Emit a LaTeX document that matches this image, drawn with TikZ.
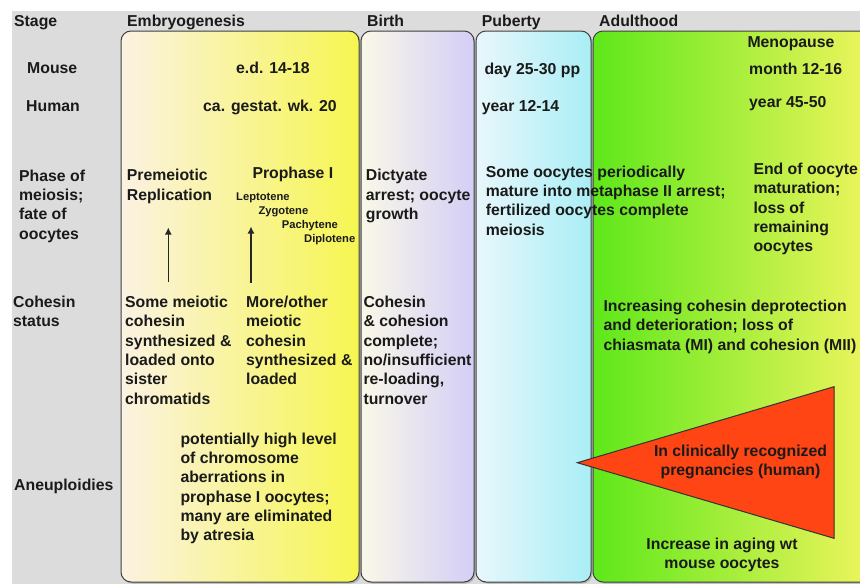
\documentclass[tikz,border=0pt]{standalone}
\usepackage{fontspec}
\setmainfont{Liberation Sans}
\usetikzlibrary{arrows.meta}

\definecolor{bggray}{HTML}{DCDCDC}
\definecolor{embL}{HTML}{FBF2E2}
\definecolor{embM}{HTML}{F9F2BC}
\definecolor{embR}{HTML}{F6F650}
\definecolor{birL}{HTML}{FAF8E8}
\definecolor{birR}{HTML}{D4CEF6}
\definecolor{pubL}{HTML}{E8F7FB}
\definecolor{pubR}{HTML}{AAEEF6}
\definecolor{aduL}{HTML}{5EE81A}
\definecolor{aduM}{HTML}{BDEE3C}
\definecolor{aduR}{HTML}{F5F560}
\definecolor{trired}{HTML}{FF4514}
\definecolor{ink}{HTML}{1A1A1A}

% multi-line nodes are placed at the baseline of their last line
\tikzset{
  txt/.style={anchor=base west, inner sep=0pt, align=left, text=ink,
    font=\fontsize{15.8}{19.3}\selectfont\bfseries},
  small/.style={txt, font=\fontsize{11.2}{14}\selectfont\bfseries},
  ctxt/.style={txt, anchor=base, align=center},
  stagebox/.style={draw=black!75, line width=1pt, rounded corners=10pt},
  shadowbox/.style={fill=black!30, rounded corners=10pt},
  uparrow/.style={draw=black!85, line width=1.3pt, -{Latex[length=7pt,width=7pt]}},
}

\begin{document}
\begin{tikzpicture}[x=1pt,y=-1pt]
\useasboundingbox (0,0) rectangle (860,584);
\clip (0,0) rectangle (860,584);
% background
\fill[bggray] (12,11) rectangle (860,584);

% stage boxes
\fill[shadowbox] (122.5,32.5) rectangle (361,583.5);
\shade[stagebox, left color=embL, middle color=embM, right color=embR]
  (121,31) rectangle (359,582);
\fill[shadowbox] (362.5,32.5) rectangle (475.5,583.5);
\shade[stagebox, left color=birL, right color=birR]
  (361,31) rectangle (474,582);
\fill[shadowbox] (477.5,32.5) rectangle (592.5,583.5);
\shade[stagebox, left color=pubL, right color=pubR]
  (476,31) rectangle (591,582);
\fill[shadowbox] (594.5,32.5) rectangle (885,583.5);
\shade[stagebox, left color=aduL, middle color=aduM, right color=aduR]
  (593,31) rectangle (884,582);

% headers
\node[txt] (hstage) at (14,26) {Stage};
\node[txt] (hemb) at (127,26) {Embryogenesis};
\node[txt] (hbirth) at (367,26) {Birth};
\node[txt] (hpub) at (481.7,26) {Puberty};
\node[txt] (hadult) at (599,26) {Adulthood};

% row labels
\node[txt] (lmouse) at (27,73.7) {Mouse};
\node[txt] (lhuman) at (26,111.3) {Human};
\node[txt] (lphase) at (19,239) {Phase of\\meiosis;\\fate of\\oocytes};
\node[txt] (lcoh) at (13,326.7) {Cohesin\\status};
\node[txt] (laneu) at (14,490) {Aneuploidies};

% timing
\node[txt] (emouse) at (236,73.7) {e.d. 14-18};
\node[txt] (ehuman) at (203,111) {ca. gestat. wk. 20};
\node[txt] (pmouse) at (484.3,74) {day 25-30 pp};
\node[txt] (phuman) at (481.7,111) {year 12-14};
\node[txt] (meno) at (747.3,47.3) {Menopause};
\node[txt] (amouse) at (749,74) {month 12-16};
\node[txt] (ahuman) at (749,107.3) {year 45-50};

% phase of meiosis
\node[txt] (premei) at (126.7,200) {Premeiotic\\Replication};
\node[txt] (proph) at (252.3,178.7) {Prophase I};
\node[small] (lepto) at (236,200) {Leptotene};
\node[small] (zygo) at (258.3,214.3) {Zygotene};
\node[small] (pachy) at (281.7,228.3) {Pachytene};
\node[small] (diplo) at (304,242.3) {Diplotene};
\node[txt] (dicty) at (365.7,219.3) {Dictyate\\arrest; oocyte\\growth};
\node[txt] (matur) at (485.7,235)
  {Some oocytes periodically\\mature into metaphase II arrest;\\fertilized oocytes complete\\meiosis};
\node[txt] (endoo) at (753.3,251.7)
  {End of oocyte\\maturation;\\loss of\\remaining\\oocytes};

% cohesin status
\node[txt] (cohA) at (125,404)
  {Some meiotic\\cohesin\\synthesized \&\\loaded onto\\sister\\chromatids};
\node[txt] (cohB) at (246,384.6)
  {More/other\\meiotic\\cohesin\\synthesized \&\\loaded};
\node[txt] (cohC) at (363.3,404)
  {Cohesin\\\& cohesion\\complete;\\no/insufficient\\re-loading,\\turnover};
\node[txt] (cohD) at (603.3,350)
  {Increasing cohesin deprotection\\and deterioration; loss of\\chiasmata (MI) and cohesion (MII)};

% arrows
\coordinate (arAs) at (168.3,282);
\coordinate (arAe) at (168.3,227.5);
\coordinate (arBs) at (251,283);
\coordinate (arBe) at (251,226.5);
\draw[uparrow] (arAs) -- (arAe);
\draw[uparrow] (arBs) -- (arBe);

% aneuploidies
\node[txt] (atres) at (180.3,540.7)
  {potentially high level\\of chromosome\\aberrations in\\prophase I oocytes;\\many are eliminated\\by atresia};
\filldraw[fill=trired, draw=black!80, line width=1pt, line join=miter]
  (577.3,462.7) -- (834,386.7) -- (834,538.3) -- cycle;
\node[ctxt] (clin) at (740.5,475.7) {In clinically recognized\\pregnancies (human)};
\node[ctxt] (aging) at (722,568.3) {Increase in aging wt\\mouse oocytes};
\end{tikzpicture}
\end{document}
